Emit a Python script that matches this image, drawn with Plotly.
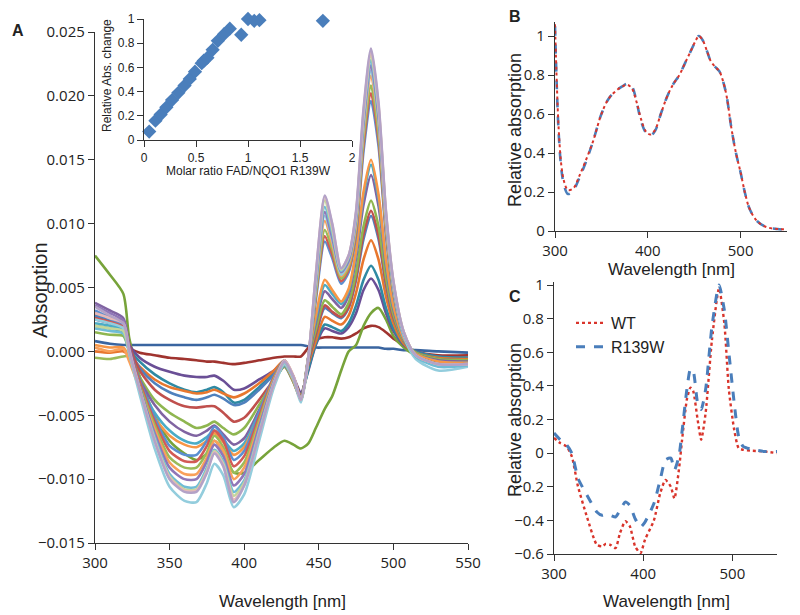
import plotly.graph_objects as go

# ---------------- Panel A data (values in units of 0.001 absorbance) ----------------
WL = [300, 310, 319, 323, 330, 340, 350, 360, 368, 375, 380, 386, 393, 400, 410, 420, 427, 433, 438,
      443, 448, 454, 459, 465, 470, 475, 480, 485, 490, 495, 500, 507, 515, 530, 550]

c01 = [0.8, 0.6, 0.5, 0.5, 0.5, 0.5, 0.5, 0.5, 0.5, 0.5, 0.5, 0.5, 0.5, 0.5, 0.5, 0.5, 0.5, 0.5, 0.5,
       0.4, 0.3, 0.3, 0.3, 0.3, 0.3, 0.3, 0.3, 0.3, 0.3, 0.2, 0.2, 0.1, 0.1, 0.0, -0.1]
c02 = [2.6, 2.4, 2.0, 0.3, -0.1, -0.3, -0.5, -0.6, -0.7, -0.8, -0.8, -0.9, -1.0, -0.9, -0.7, -0.5, -0.4, -0.4, -0.4,
       0.3, 0.9, 1.1, 1.1, 1.0, 1.1, 1.4, 1.8, 2.0, 1.9, 1.5, 1.0, 0.5, 0.0, -0.3, -0.3]
c03 = [7.5, 6.0, 4.5, 1.0, -2.0, -5.0, -7.0, -8.0, -8.5, -8.0, -7.0, -7.8, -9.5, -9.5, -8.5, -7.5, -7.0, -7.3, -7.6,
       -7.2, -6.0, -4.5, -3.5, -1.5, 0.0, 0.5, 2.0, 3.0, 3.4, 2.5, 1.2, 0.3, -0.3, -0.5, -0.5]
c04 = [2.5, 2.2, 1.8, 0.5, -0.5, -1.2, -1.6, -1.9, -2.0, -2.0, -1.9, -2.3, -3.0, -2.9, -2.2, -1.5, -0.8, -2.0, -3.2,
       -1.5, 0.5, 1.8, 1.6, 1.4, 1.9, 3.0, 4.8, 5.7, 4.8, 3.0, 1.6, 0.5, 0.0, -0.4, -0.5]
c05 = [2.0, 1.8, 1.5, 0.2, -0.8, -1.8, -2.5, -3.0, -3.2, -3.0, -2.8, -3.2, -4.0, -3.8, -2.8, -1.7, -1.0, -2.2, -3.4,
       -1.4, 0.6, 2.1, 1.9, 1.6, 2.2, 3.6, 5.6, 6.7, 5.6, 3.4, 1.8, 0.6, 0.0, -0.4, -0.5]
c06 = [0.0, -0.1, 0.0, -0.3, -1.2, -2.2, -2.8, -3.1, -3.3, -3.2, -3.0, -3.3, -3.6, -3.3, -2.5, -1.5, -0.7, -2.0, -3.5,
       -1.0, 0.8, 2.7, 2.4, 2.1, 2.8, 4.6, 7.2, 8.7, 7.2, 4.3, 2.2, 0.6, -0.1, -0.5, -0.6]
c07 = [2.8, 2.5, 2.0, 0.3, -1.3, -2.5, -3.2, -3.6, -3.8, -3.6, -3.4, -3.7, -4.2, -4.0, -3.0, -1.8, -1.0, -2.3, -3.6,
       -0.8, 1.3, 3.4, 3.0, 2.6, 3.4, 5.6, 8.8, 10.6, 8.8, 5.2, 2.6, 0.8, -0.1, -0.6, -0.7]
c08 = [3.0, 2.7, 2.3, 0.5, -1.5, -3.0, -3.8, -4.3, -4.4, -4.3, -4.3, -4.8, -5.5, -5.2, -3.8, -2.2, -1.2, -2.4, -3.7,
       -0.8, 1.4, 3.6, 3.1, 2.7, 3.5, 5.8, 9.2, 11.0, 9.1, 5.4, 2.7, 0.8, -0.1, -0.6, -0.7]
c09 = [1.5, 1.3, 1.2, 0.0, -2.0, -3.8, -4.8, -5.5, -6.0, -5.8, -5.5, -6.0, -6.5, -6.0, -4.2, -2.3, -1.2, -2.4, -3.7,
       -0.6, 1.7, 4.0, 3.5, 2.9, 3.8, 6.2, 9.8, 11.8, 9.8, 5.8, 2.9, 0.8, -0.1, -0.6, -0.7]
c10 = [3.8, 3.2, 2.6, 0.4, -2.2, -4.2, -5.5, -6.3, -6.6, -6.2, -5.8, -6.5, -7.3, -6.8, -4.6, -2.4, -1.1, -2.3, -3.7,
       -0.5, 2.2, 4.7, 4.1, 3.4, 4.4, 7.3, 11.5, 13.8, 11.4, 6.7, 3.3, 0.9, -0.2, -0.7, -0.8]
c11 = [2.2, 2.0, 1.7, 0.0, -2.5, -4.8, -6.2, -7.0, -7.2, -6.7, -6.2, -6.9, -7.8, -7.2, -4.8, -2.4, -1.1, -2.3, -3.7,
       -0.4, 2.5, 5.2, 4.5, 3.7, 4.7, 7.7, 12.2, 14.6, 12.0, 7.0, 3.5, 1.0, -0.2, -0.8, -0.9]
c12 = [0.5, 0.3, 0.3, -0.5, -2.8, -5.2, -6.6, -7.3, -7.5, -7.0, -6.4, -7.1, -8.1, -7.5, -5.0, -2.4, -1.0, -2.3, -3.8,
       -0.4, 2.8, 5.6, 4.8, 3.9, 4.9, 7.9, 12.5, 15.0, 12.3, 7.2, 3.6, 1.0, -0.2, -0.8, -0.9]
c13 = [3.2, 2.6, 2.0, 0.0, -2.3, -5.2, -7.4, -8.1, -8.1, -7.0, -5.9, -6.7, -8.5, -7.8, -4.8, -1.9, -0.7, -2.0, -3.8,
       -0.5, 4.0, 8.6, 7.3, 5.3, 6.2, 9.1, 15.7, 19.6, 16.1, 9.1, 4.5, 1.2, -0.3, -1.0, -1.0]
c14 = [2.6, 2.3, 1.9, 0.1, -2.4, -5.5, -7.8, -8.6, -8.6, -7.4, -6.2, -7.0, -9.0, -8.2, -5.1, -2.0, -0.8, -2.0, -3.8,
       -0.5, 4.3, 9.0, 7.6, 5.5, 6.4, 9.4, 16.2, 20.2, 16.6, 9.4, 4.7, 1.3, -0.3, -1.0, -1.0]
c15 = [-0.5, -0.6, -0.4, -0.4, -2.7, -5.8, -8.3, -9.1, -9.1, -7.9, -6.6, -7.5, -9.5, -8.7, -5.4, -2.1, -0.8, -2.0, -3.8,
       -0.5, 4.5, 9.5, 8.0, 5.7, 6.6, 9.7, 16.7, 20.8, 17.1, 9.7, 4.8, 1.3, -0.3, -1.0, -1.0]
c16 = [0.3, 0.0, 0.2, -0.8, -3.0, -6.1, -8.7, -9.6, -9.6, -8.3, -7.0, -7.8, -10.0, -9.1, -5.7, -2.2, -0.8, -2.0, -3.8,
       -0.5, 4.9, 10.2, 8.4, 5.9, 6.8, 10.0, 17.3, 21.6, 17.8, 10.0, 5.0, 1.4, -0.3, -1.0, -1.0]
c17 = [2.5, 2.2, 1.8, -0.2, -3.4, -7.6, -10.6, -11.7, -11.8, -10.3, -8.8, -9.7, -12.2, -11.2, -7.0, -2.8, -1.0, -2.2, -4.0,
       -0.7, 5.0, 10.6, 8.7, 6.0, 7.0, 10.2, 17.6, 22.0, 18.1, 10.2, 5.0, 1.2, -0.6, -1.5, -1.2]
c18 = [3.6, 3.0, 2.4, 0.2, -2.8, -6.4, -9.1, -10.0, -10.0, -8.6, -7.3, -8.2, -10.5, -9.6, -5.9, -2.3, -0.8, -2.0, -3.8,
       -0.5, 5.3, 10.9, 8.9, 6.2, 7.1, 10.4, 17.9, 22.4, 18.4, 10.4, 5.2, 1.4, -0.3, -1.0, -1.0]
c19 = [1.8, 1.6, 1.4, -0.2, -3.0, -6.7, -9.6, -10.6, -10.6, -9.1, -7.7, -8.6, -11.0, -10.1, -6.2, -2.4, -0.8, -2.0, -3.8,
       -0.5, 5.5, 11.3, 9.3, 6.3, 7.3, 10.6, 18.3, 22.8, 18.8, 10.6, 5.3, 1.4, -0.4, -1.2, -1.1]
c20 = [2.0, 1.8, 1.6, -0.1, -3.0, -6.9, -9.8, -10.8, -10.8, -9.3, -7.8, -8.8, -11.3, -10.3, -6.4, -2.5, -0.8, -2.0, -3.8,
       -0.5, 5.8, 11.8, 9.6, 6.4, 7.4, 10.8, 18.6, 23.2, 19.1, 10.8, 5.4, 1.5, -0.3, -1.0, -1.0]
c21 = [3.0, 2.6, 2.2, 0.1, -3.0, -7.0, -9.9, -10.9, -10.9, -9.4, -7.9, -8.9, -11.6, -10.5, -6.5, -2.5, -0.7, -1.9, -3.8,
       -0.5, 6.0, 12.1, 9.9, 6.5, 7.5, 10.9, 18.8, 23.5, 19.3, 10.9, 5.5, 1.5, -0.3, -1.0, -1.0]
c22 = [3.5, 2.8, 2.2, 0.0, -3.0, -7.0, -10.0, -11.0, -11.0, -9.5, -8.0, -9.0, -11.8, -10.5, -6.5, -2.5, -0.8, -2.0, -3.8,
       -0.5, 6.0, 12.2, 10.0, 6.5, 7.5, 11.0, 19.0, 23.7, 19.5, 11.0, 5.5, 1.5, -0.3, -1.0, -1.0]

A_series = [c01, c02, c03, c04, c05, c06, c07, c08, c09, c10, c11,
            c12, c13, c14, c15, c16, c17, c18, c19, c20, c21, c22]
A_colors = ["#3a65a0", "#a0342f", "#77a33a", "#6a4f96", "#2f8aa3", "#e8772e", "#4f81bd",
            "#c0504d", "#8fb650", "#8064a2", "#4bacc6", "#f79646", "#5b8fd0", "#d35a55",
            "#9bbb59", "#f9a05a", "#93cddd", "#9077b8", "#6fbcd6", "#c3d69b", "#e6b9b8", "#b3a2c7"]

# ---------------- Inset data ----------------
ratio = [0.05, 0.11, 0.16, 0.215, 0.27, 0.33, 0.39, 0.44, 0.49, 0.555, 0.575, 0.61, 0.66, 0.71, 0.77,
         0.825, 0.87, 0.935, 1.0, 1.06, 1.11, 1.165, 1.44, 1.72]
rel_change = [0.07, 0.16, 0.21, 0.27, 0.33, 0.39, 0.45, 0.505, 0.565, 0.635, 0.655, 0.68, 0.745, 0.82, 0.875,
              0.92, 1.005, 0.87, 1.0, 0.985, 0.99, 1.005, 1.005, 0.985]

# ---------------- Panel B data ----------------
B_wl = [300, 302, 304, 307, 310, 314, 320, 326, 333, 341, 350, 358, 366, 372, 378, 383, 388, 393, 398,
        403, 408, 414, 420, 427, 434, 440, 446, 452, 455, 459, 464, 468, 473, 477, 481, 485, 490, 495,
        500, 505, 510, 518, 528, 540, 550]
B_wt = [1.06, 0.75, 0.52, 0.33, 0.25, 0.21, 0.22, 0.28, 0.36, 0.46, 0.6, 0.68, 0.72, 0.74, 0.75, 0.73,
        0.66, 0.57, 0.51, 0.495, 0.52, 0.6, 0.68, 0.75, 0.8, 0.86, 0.92, 0.98, 1.0, 0.98, 0.92, 0.87,
        0.84, 0.82, 0.77, 0.69, 0.53, 0.4, 0.3, 0.19, 0.11, 0.05, 0.02, 0.01, 0.01]
B_mut = [1.05, 0.73, 0.5, 0.31, 0.23, 0.19, 0.21, 0.27, 0.35, 0.46, 0.6, 0.68, 0.72, 0.74, 0.755, 0.74,
         0.66, 0.56, 0.505, 0.49, 0.515, 0.6, 0.68, 0.75, 0.8, 0.86, 0.92, 0.98, 1.0, 0.98, 0.92, 0.87,
         0.84, 0.82, 0.77, 0.69, 0.53, 0.4, 0.3, 0.19, 0.11, 0.05, 0.02, 0.01, 0.005]

# ---------------- Panel C data ----------------
C_wl = [300, 307, 314, 320, 327, 337, 348, 354, 358, 363, 369, 374, 380, 385, 391, 397, 402, 412, 419,
        425, 431, 435, 440, 444, 449, 453, 456, 461, 465, 470, 477, 485, 491, 496, 502, 507, 512, 520,
        536, 550]
C_wt = [0.09, 0.06, 0.04, -0.02, -0.2, -0.38, -0.545, -0.555, -0.54, -0.545, -0.565, -0.475, -0.405,
        -0.435, -0.555, -0.595, -0.515, -0.4, -0.24, -0.16, -0.2, -0.27, -0.1, 0.1, 0.32, 0.39, 0.37,
        0.2, 0.08, 0.24, 0.67, 0.98, 0.77, 0.38, 0.14, 0.03, 0.02, 0.015, 0.01, 0.0]
C_mut = [0.12, 0.08, 0.05, 0.0, -0.15, -0.25, -0.35, -0.37, -0.365, -0.37, -0.38, -0.34, -0.29, -0.31,
         -0.39, -0.44, -0.41, -0.3, -0.16, -0.04, -0.03, -0.1, -0.02, 0.15, 0.38, 0.5, 0.49, 0.3, 0.26,
         0.38, 0.75, 1.0, 0.85, 0.6, 0.3, 0.1, 0.04, 0.025, 0.01, 0.01]

# ---------------- Figure ----------------
W, H = 800, 615
def px(x):
    return x / W
def py(y):
    return 1 - y / H

fig = go.Figure()

for vals, col in zip(A_series, A_colors):
    fig.add_trace(go.Scatter(x=WL, y=[v * 1e-3 for v in vals], mode="lines",
                             line=dict(color=col, width=2.6, shape="spline", smoothing=0.7),
                             showlegend=False, xaxis="x", yaxis="y", hoverinfo="skip"))

fig.add_trace(go.Scatter(x=ratio, y=rel_change, mode="markers",
                         marker=dict(symbol="diamond", size=11, color="#4a7ebb"),
                         showlegend=False, xaxis="x4", yaxis="y4", cliponaxis=False))

fig.add_trace(go.Scatter(x=B_wl, y=B_mut, mode="lines", showlegend=False,
                         line=dict(color="#4a7ebb", width=2.6, dash="dash", shape="spline"),
                         xaxis="x2", yaxis="y2", cliponaxis=False))
fig.add_trace(go.Scatter(x=B_wl, y=B_wt, mode="lines", showlegend=False,
                         line=dict(color="#d9342b", width=2, dash="dot", shape="spline"),
                         xaxis="x2", yaxis="y2", cliponaxis=False))

fig.add_trace(go.Scatter(x=C_wl, y=C_wt, mode="lines", name="WT",
                         line=dict(color="#d9342b", width=2.4, dash="dot", shape="spline", smoothing=0.6),
                         xaxis="x3", yaxis="y3"))
fig.add_trace(go.Scatter(x=C_wl, y=C_mut, mode="lines", name="R139W",
                         line=dict(color="#4a7ebb", width=3, dash="dash", shape="spline", smoothing=0.6),
                         xaxis="x3", yaxis="y3"))

axis_common = dict(showgrid=False, zeroline=False, showline=True, linecolor="#333", linewidth=1.4,
                   ticks="outside", ticklen=6, tickcolor="#333", tickwidth=1.3, automargin=False)
tickfont = dict(family="Open Sans, Liberation Sans, Arial", size=15, color="#222")
tickfont_s = dict(family="Liberation Sans, Arial", size=12, color="#222")

fig.update_layout(
    width=W, height=H, margin=dict(l=0, r=0, t=0, b=0, autoexpand=False),
    paper_bgcolor="white", plot_bgcolor="rgba(0,0,0,0)",
    font=dict(family="Liberation Sans, Arial", color="#222"),
    xaxis=dict(**axis_common, domain=[px(95), px(468)], range=[300, 550], anchor="y",
               tickvals=[300, 350, 400, 450, 500, 550], tickfont=tickfont),
    yaxis=dict(**axis_common, domain=[py(543), py(32)], range=[-0.015, 0.025], anchor="x",
               tickvals=[-0.015, -0.01, -0.005, 0, 0.005, 0.01, 0.015, 0.02, 0.025],
               tickformat=".3f", tickfont=tickfont),
    xaxis2=dict(**axis_common, domain=[px(555), px(787)], range=[300, 550], anchor="y2",
                tickvals=[300, 400, 500], tickfont=tickfont),
    yaxis2=dict(**axis_common, domain=[py(231), py(22.4)], range=[0, 1.07], anchor="x2",
                tickvals=[0, 0.2, 0.4, 0.6, 0.8, 1], tickfont=tickfont),
    xaxis3=dict(**axis_common, domain=[px(554), px(777)], range=[300, 550], anchor="y3",
                tickvals=[300, 400, 500], tickfont=tickfont),
    yaxis3=dict(**axis_common, domain=[py(554), py(281.7)], range=[-0.6, 1.02], anchor="x3",
                tickvals=[-0.6, -0.4, -0.2, 0, 0.2, 0.4, 0.6, 0.8, 1], tickfont=tickfont),
    xaxis4=dict(**axis_common, domain=[px(144), px(352)], range=[0, 2], anchor="y4",
                tickvals=[0, 0.5, 1, 1.5, 2], tickfont=tickfont_s),
    yaxis4=dict(**axis_common, domain=[py(140), py(19)], range=[0, 1], anchor="x4",
                tickvals=[0, 0.2, 0.4, 0.6, 0.8, 1], tickfont=tickfont_s),
    legend=dict(x=px(571), y=py(306), xanchor="left", yanchor="top", bgcolor="rgba(0,0,0,0)",
                font=dict(family="Liberation Sans, Arial", size=16, color="#222"),
                itemwidth=30, tracegroupgap=2),
)

ann = []
def add_text(text, x, y, size, angle=0, bold=False):
    ann.append(dict(text=("<b>%s</b>" % text) if bold else text, x=px(x), y=py(y),
                    xref="paper", yref="paper", showarrow=False, textangle=angle,
                    xanchor="center", yanchor="middle",
                    font=dict(family="Liberation Sans, Arial", size=size, color="#222")))

add_text("A", 18, 30, 16, bold=True)
add_text("B", 515, 17, 16, bold=True)
add_text("C", 515, 296, 16, bold=True)
add_text("Absorption", 40, 290, 20, angle=-90)
add_text("Wavelength [nm]", 282, 601, 17)
add_text("Molar ratio FAD/NQO1 R139W", 248, 171, 12)
add_text("Relative Abs. change", 107, 76, 12, angle=-90)
add_text("Relative absorption", 515, 130, 18, angle=-90)
add_text("Wavelength [nm]", 671, 270, 17)
add_text("Relative absorption", 515, 420, 18, angle=-90)
add_text("Wavelength [nm]", 666, 601, 17)
fig.update_layout(annotations=ann)

fig.write_html("out.html", config={"displayModeBar": False},
               post_script="document.body.style.margin='0';document.body.style.overflow='hidden';")
